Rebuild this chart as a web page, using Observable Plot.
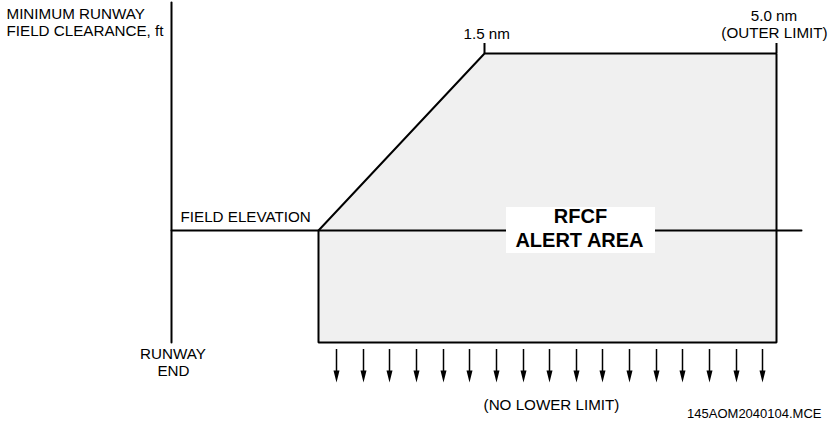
<!DOCTYPE html>
<html>
<head>
<meta charset="utf-8">
<script src="https://cdn.jsdelivr.net/npm/d3@7"></script>
<script src="https://cdn.jsdelivr.net/npm/@observablehq/plot@0.6"></script>
<style>
  html, body { margin: 0; padding: 0; background: #fff; }
  #chart svg { display: block; }
</style>
</head>
<body>
<div id="chart"></div>
<script>
// Diagram units: x = distance from runway end, y = clearance above field elevation (schematic)
const alertX = [147, 313, 605, 605, 147];        // RFCF alert area outline
const alertY = [0, 177, 177, -112, -112];
const fieldLineX = [0, 630];                      // field elevation line
const runwayAxisY = [-112, 228];                  // vertical clearance axis at runway end
const limitTickX = [313, 605];                    // 1.5 nm and 5.0 nm markers
const limitTickY = [177, 187];
const arrowX = [165, 192, 218, 245, 272, 298, 325, 352, 378, 405, 431, 458, 485, 511, 538, 565, 591];
const arrowTop = -119, arrowBase = -141, arrowTip = -152;
const boxX = [335, 484], boxY = [-23, 23];        // white label box

const labels = [
  {text: "MINIMUM RUNWAY", x: -165, y: 216.6, anchor: "start", size: 15.2, weight: "normal"},
  {text: "FIELD CLEARANCE, ft", x: -165, y: 199.6, anchor: "start", size: 15.2, weight: "normal"},
  {text: "1.5 nm", x: 292, y: 196.4, anchor: "start", size: 15.2, weight: "normal"},
  {text: "5.0 nm", x: 602.5, y: 214, anchor: "middle", size: 15.2, weight: "normal"},
  {text: "(OUTER LIMIT)", x: 603, y: 197.5, anchor: "middle", size: 15.2, weight: "normal"},
  {text: "FIELD ELEVATION", x: 9, y: 13.4, anchor: "start", size: 15.2, weight: "normal"},
  {text: "RFCF", x: 409, y: 14, anchor: "middle", size: 20, weight: "bold"},
  {text: "ALERT AREA", x: 408, y: -10, anchor: "middle", size: 20, weight: "bold"},
  {text: "RUNWAY", x: 1.5, y: -123.6, anchor: "middle", size: 15.2, weight: "normal"},
  {text: "END", x: 2, y: -140.6, anchor: "middle", size: 15.2, weight: "normal"},
  {text: "(NO LOWER LIMIT)", x: 380, y: -174.6, anchor: "middle", size: 15.2, weight: "normal"},
  {text: "145AOM2040104.MCE", x: 650, y: -183, anchor: "end", size: 13, weight: "normal"}
];

const alertArea = alertX.map((x, i) => ({x, y: alertY[i]}));

const stippleDefs = () => {
  const defs = d3.create("svg:defs");
  const p = defs.append("pattern")
    .attr("id", "stipple").attr("width", 2).attr("height", 2)
    .attr("patternUnits", "userSpaceOnUse");
  p.append("rect").attr("width", 2).attr("height", 2).attr("fill", "#fdfdfd");
  p.append("rect").attr("width", 1).attr("height", 1).attr("fill", "#dcdcdc");
  p.append("rect").attr("x", 1).attr("y", 1).attr("width", 1).attr("height", 1).attr("fill", "#e8e8e8");
  return defs.node();
};

const arrowHead = {
  draw(ctx) {
    ctx.moveTo(0, 0);
    ctx.lineTo(-3, -12);
    ctx.lineTo(3, -12);
    ctx.closePath();
  }
};

const font = "'Liberation Sans', Arial, Helvetica, sans-serif";

const textMarks = ["start", "middle", "end"].flatMap(anchor =>
  ["normal", "bold"].flatMap(weight =>
    [13, 15.2, 20].map(size => {
      const d = labels.filter(l => l.anchor === anchor && l.weight === weight && l.size === size);
      if (!d.length) return null;
      return Plot.text(d, {
        x: "x", y: "y", text: "text", textAnchor: anchor, fontSize: size,
        fontWeight: weight, fontFamily: font, fill: "#000", lineAnchor: "middle"
      });
    })
  )
).filter(Boolean);

const chart = Plot.plot({
  width: 831,
  height: 425,
  margin: 0,
  x: {domain: [-171, 660], axis: null},
  y: {domain: [-195, 230], axis: null},
  marks: [
    stippleDefs,
    Plot.line(alertArea, {x: "x", y: "y", fill: "url(#stipple)", stroke: "none", curve: "linear-closed"}),
    Plot.line(fieldLineX.map(x => ({x, y: 0})), {x: "x", y: "y", stroke: "#000", strokeWidth: 2}),
    Plot.line(runwayAxisY.map(y => ({x: 0, y})), {x: "x", y: "y", stroke: "#000", strokeWidth: 2}),
    Plot.line(alertArea, {x: "x", y: "y", stroke: "#000", strokeWidth: 2, fill: "none", curve: "linear-closed", strokeLinejoin: "miter"}),
    Plot.ruleX(limitTickX, {x: d => d, y1: limitTickY[0], y2: limitTickY[1], stroke: "#000", strokeWidth: 2}),
    Plot.rect([{x1: boxX[0], x2: boxX[1], y1: boxY[0], y2: boxY[1]}], {x1: "x1", x2: "x2", y1: "y1", y2: "y2", fill: "#fff"}),
    Plot.ruleX(arrowX, {x: d => d, y1: arrowTop, y2: arrowBase, stroke: "#000", strokeWidth: 1.5}),
    Plot.dot(arrowX, {x: d => d, y: arrowTip, symbol: arrowHead, fill: "#000", stroke: "none"}),
    ...textMarks
  ]
});

document.getElementById("chart").appendChild(chart);
</script>
</body>
</html>
